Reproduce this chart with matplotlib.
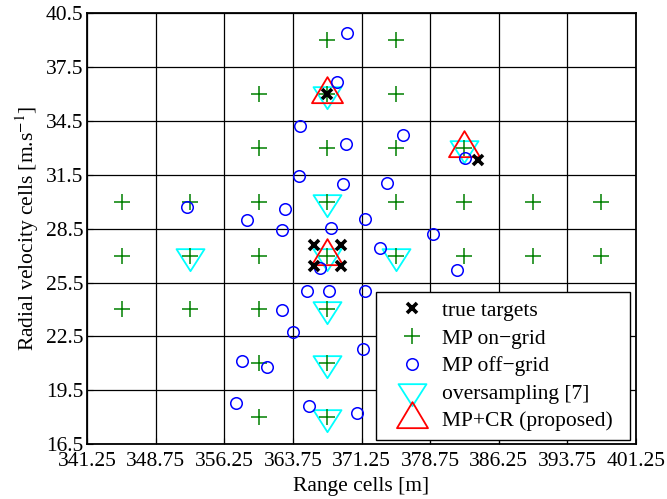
import numpy as np
import matplotlib
matplotlib.use("Agg")
import matplotlib.pyplot as plt
from matplotlib.path import Path

plt.rcParams['font.family'] = ['Liberation Serif', 'DejaVu Serif']
plt.rcParams['mathtext.fontset'] = 'stix'

# estimated target / estimate positions (range cell, velocity cell)
true_x = [367.5, 366.0, 369.0, 366.0, 369.0, 384.0]
true_y = [36.0, 27.6, 27.6, 26.4, 26.4, 32.35]

ongrid_x = [367.5, 375.0,
            360.0, 367.5, 375.0,
            360.0, 367.5, 375.0, 382.5,
            345.0, 352.5, 360.0, 367.5, 375.0, 382.5, 390.0, 397.5,
            345.0, 352.5, 360.0, 367.5, 375.0, 382.5, 390.0, 397.5,
            345.0, 352.5, 360.0, 367.5,
            360.0, 367.5,
            360.0, 367.5]
ongrid_y = [39, 39,
            36, 36, 36,
            33, 33, 33, 33,
            30, 30, 30, 30, 30, 30, 30, 30,
            27, 27, 27, 27, 27, 27, 27, 27,
            24, 24, 24, 24,
            21, 21,
            18, 18]

offgrid_x = [369.7, 368.6, 364.5, 369.5, 364.4, 369.2, 352.2, 362.9, 358.7, 371.6,
             367.9, 375.8, 382.6, 374.0, 362.5, 373.25, 366.7, 365.25, 367.7, 371.6,
             362.6, 363.7, 371.45, 358.2, 360.9, 357.5, 365.5, 370.8, 379.1, 381.7]
offgrid_y = [39.4, 36.7, 34.2, 33.2, 31.45, 31.0, 29.7, 29.6, 29.0, 29.05,
             28.55, 33.7, 32.45, 31.05, 28.4, 27.45, 26.3, 25.05, 25.0, 25.0,
             23.95, 22.75, 21.8, 21.1, 20.8, 18.8, 18.6, 18.25, 28.2, 26.2]

over_x = [367.5, 367.5, 352.5, 367.5, 375.0, 367.5, 367.5, 367.5, 382.5]
over_y = [36, 30, 27, 27, 27, 24, 21, 18, 33]

mpcr_x = [367.5, 367.5, 382.5]
mpcr_y = [36, 27, 33]

xticks = [341.25, 348.75, 356.25, 363.75, 371.25, 378.75, 386.25, 393.75, 401.25]
yticks = [16.5, 19.5, 22.5, 25.5, 28.5, 31.5, 34.5, 37.5, 40.5]

FS = 15.5


# triangles with the centroid on the data point (like MATLAB)
def tri_marker(w, h, down):
    if down:
        v = [(-w / 2, h / 3), (w / 2, h / 3), (0, -2 * h / 3), (-w / 2, h / 3)]
    else:
        v = [(-w / 2, -h / 3), (w / 2, -h / 3), (0, 2 * h / 3), (-w / 2, -h / 3)]
    return Path(v, closed=True), 2 * max(w / 2, 2 * h / 3) * 72 / 100.0


down_tri, down_ms = tri_marker(28, 22, True)
up_tri, up_ms = tri_marker(31, 26, False)

fig = plt.figure(figsize=(6.67, 4.99), dpi=100)
ax = fig.add_axes([0.1309, 0.1102, 0.8222, 0.8631])

ax.plot(over_x, over_y, ls='none', marker=down_tri, ms=down_ms, mfc='none',
        mec='#00ffff', mew=1.3, label='oversampling [7]', zorder=3)
ax.plot(mpcr_x, mpcr_y, ls='none', marker=up_tri, ms=up_ms, mfc='none',
        mec='#ff0000', mew=1.3, label='MP+CR (proposed)', zorder=4)
ax.plot(ongrid_x, ongrid_y, ls='none', marker='+', ms=12, mec='#008000',
        mew=1.1, label='MP on\u2212grid', zorder=5)
ax.plot(offgrid_x, offgrid_y, ls='none', marker='o', ms=8.3, mfc='none',
        mec='#0000ff', mew=1.1, label='MP off\u2212grid', zorder=6)
ax.plot(true_x, true_y, ls='none', marker='x', ms=7, mec='k', mew=2.6,
        label='true targets', zorder=7)

ax.set_xlim(341.25, 401.25)
ax.set_ylim(16.5, 40.5)
ax.set_xticks(xticks)
ax.set_yticks(yticks)
ax.set_xticklabels(['%.2f' % t for t in xticks])
ax.set_yticklabels(['%.1f' % t for t in yticks])
ax.grid(True, color='k', lw=0.9, ls='-', zorder=0)
ax.set_axisbelow(True)
ax.tick_params(direction='in', length=4, labelsize=FS)
ax.tick_params(axis='x', pad=6)
ax.tick_params(axis='y', pad=3)
for s in ax.spines.values():
    s.set_linewidth(1.3)

ax.set_xlabel('Range cells [m]', fontsize=FS, labelpad=4)
ax.set_ylabel('Radial velocity cells [m.s$^{-1}$]', fontsize=FS, labelpad=3)

h, l = ax.get_legend_handles_labels()
order = [4, 2, 3, 0, 1]
leg = ax.legend([h[i] for i in order], [l[i] for i in order],
                loc='lower left', bbox_to_anchor=(0.5264, 0.0093, 0.4632, 0.3),
                mode='expand', borderaxespad=0, fancybox=False, framealpha=1,
                edgecolor='k', fontsize=FS, numpoints=1, handlelength=2.5,
                handletextpad=0.15, labelspacing=0.35, borderpad=0.4)
leg.get_frame().set_linewidth(1.0)

fig.savefig('out.png', dpi=100)
